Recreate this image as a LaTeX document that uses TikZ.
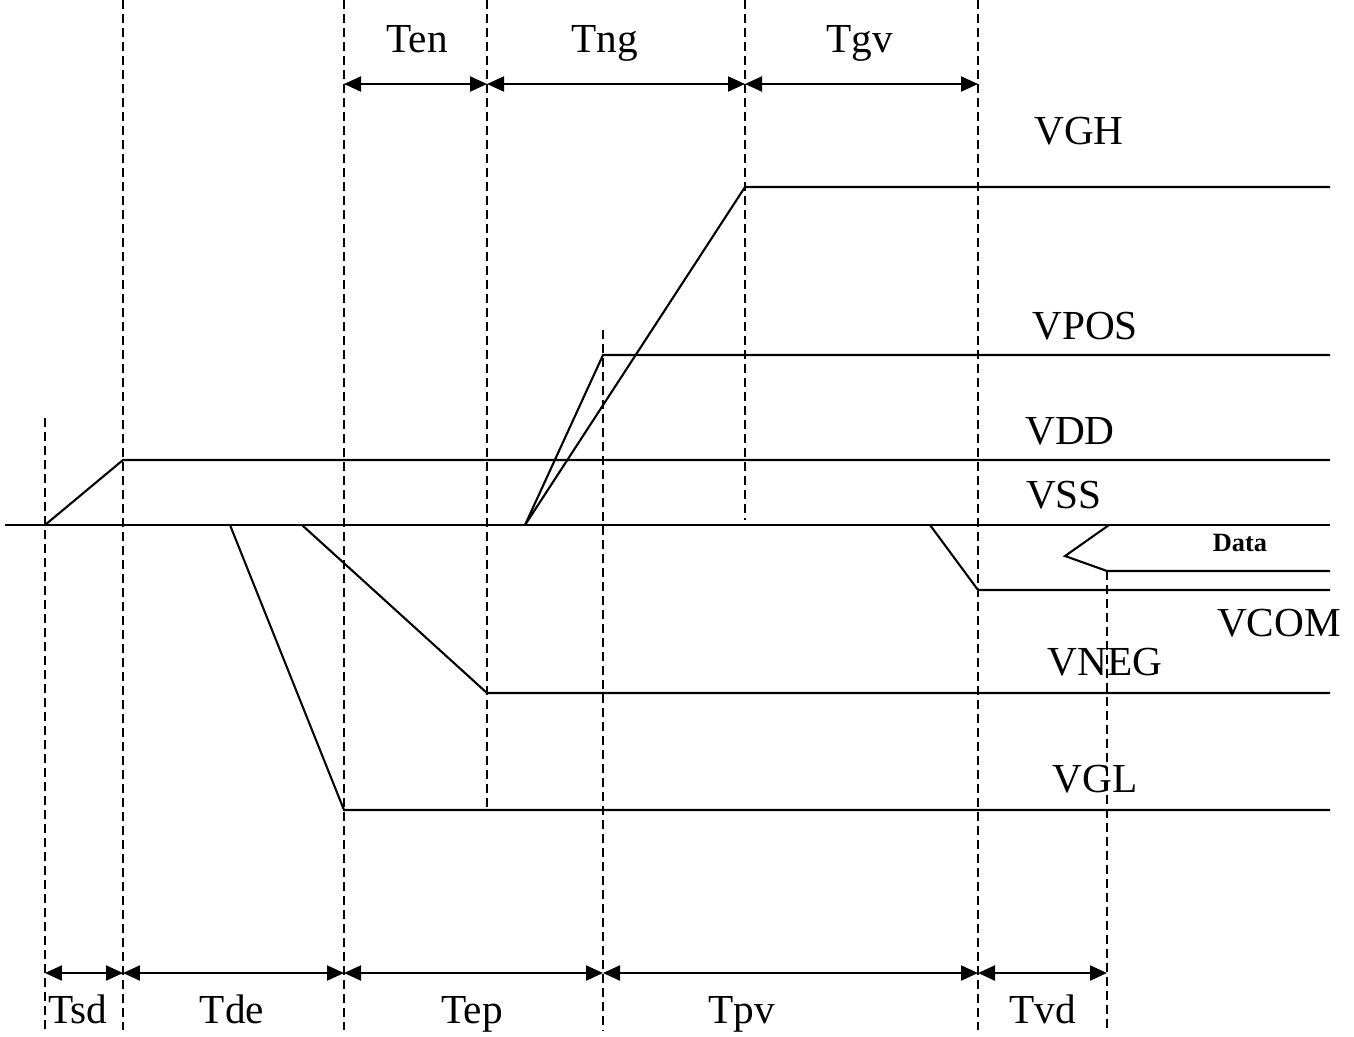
\documentclass[tikz,border=0pt]{standalone}
\usepackage{fontspec}
\setmainfont{Liberation Serif}
\usetikzlibrary{arrows.meta}
\begin{document}
\begin{tikzpicture}[x=0.02cm,y=-0.02cm,
  sig/.style={line width=1.2pt, line join=miter},
  guide/.style={line width=1.2pt, dash pattern=on 0.18cm off 0.1cm},
  dim/.style={line width=1.2pt, {Triangle[length=0.34cm,width=0.3cm]}-{Triangle[length=0.34cm,width=0.3cm]}},
  lbl/.style={font=\fontsize{23.5}{28}\selectfont, inner sep=0pt, anchor=base},
  dlbl/.style={font=\fontsize{15}{18}\selectfont\bfseries, inner sep=0pt, anchor=base}]
\useasboundingbox (0,0) rectangle (1354,1036);
% guide coordinates
\coordinate (g1t) at (45,418);  \coordinate (g1b) at (45,1030);
\coordinate (g2t) at (123,0);   \coordinate (g2b) at (123,1030);
\coordinate (g3t) at (344,0);   \coordinate (g3b) at (344,1030);
\coordinate (g4t) at (487,0);   \coordinate (g4b) at (487,810);
\coordinate (g5t) at (603,330); \coordinate (g5b) at (603,1030);
\coordinate (g6t) at (745,0);   \coordinate (g6b) at (745,520);
\coordinate (g7t) at (978,0);   \coordinate (g7b) at (978,1030);
\coordinate (g8t) at (1107,571);\coordinate (g8b) at (1107,1030);
\draw[guide] (g1t) -- (g1b);
\draw[guide] (g2t) -- (g2b);
\draw[guide] (g3t) -- (g3b);
\draw[guide] (g4t) -- (g4b);
\draw[guide] (g5t) -- (g5b);
\draw[guide] (g6t) -- (g6b);
\draw[guide] (g7t) -- (g7b);
\draw[guide] (g8t) -- (g8b);
% signals
\coordinate (vssL) at (5,525); \coordinate (vssR) at (1330,525);
\draw[sig] (vssL) -- (vssR);
\coordinate (vdd0) at (45,525); \coordinate (vdd1) at (123,460); \coordinate (vdd2) at (1330,460);
\draw[sig] (vdd0) -- (vdd1) -- (vdd2);
\coordinate (vp0) at (525,525); \coordinate (vp1) at (603,355); \coordinate (vp2) at (1330,355);
\draw[sig] (vp0) -- (vp1) -- (vp2);
\coordinate (vh1) at (745,187); \coordinate (vh2) at (1330,187);
\draw[sig] (vp0) -- (vh1) -- (vh2);
\coordinate (vn0) at (302,525); \coordinate (vn1) at (487,693); \coordinate (vn2) at (1330,693);
\draw[sig] (vn0) -- (vn1) -- (vn2);
\coordinate (vl0) at (230,525); \coordinate (vl1) at (344,810); \coordinate (vl2) at (1330,810);
\draw[sig] (vl0) -- (vl1) -- (vl2);
\coordinate (vc0) at (930,525); \coordinate (vc1) at (978,590); \coordinate (vc2) at (1330,590);
\draw[sig] (vc0) -- (vc1) -- (vc2);
\coordinate (d0) at (1109,525); \coordinate (d1) at (1065,556); \coordinate (d2) at (1107,571); \coordinate (d3) at (1330,571);
\draw[sig] (d0) -- (d1) -- (d2) -- (d3);
% signal labels
\node[lbl] (tVGH) at (1079,144) {VGH};
\node[lbl] (tVPOS) at (1085,339) {VPOS};
\node[lbl] (tVDD) at (1070,444) {VDD};
\node[lbl] (tVSS) at (1064,508) {VSS};
\node[dlbl] (tData) at (1240,551) {Data};
\node[lbl] (tVCOM) at (1279,636) {VCOM};
\node[lbl] (tVNEG) at (1105,675) {VNEG};
\node[lbl] (tVGL) at (1095,792) {VGL};
% top dimension arrows
\coordinate (a1) at (344,84); \coordinate (a2) at (487,84); \coordinate (a3) at (745,84); \coordinate (a4) at (978,84);
\draw[dim] (a1) -- (a2);
\draw[dim] (a2) -- (a3);
\draw[dim] (a3) -- (a4);
\node[lbl] (tTen) at (417,52) {Ten};
\node[lbl] (tTng) at (605,52) {Tng};
\node[lbl] (tTgv) at (860,52) {Tgv};
% bottom dimension arrows
\coordinate (b1) at (45,973); \coordinate (b2) at (123,973); \coordinate (b3) at (344,973);
\coordinate (b4) at (603,973); \coordinate (b5) at (978,973); \coordinate (b6) at (1107,973);
\draw[dim] (b1) -- (b2);
\draw[dim] (b2) -- (b3);
\draw[dim] (b3) -- (b4);
\draw[dim] (b4) -- (b5);
\draw[dim] (b5) -- (b6);
\node[lbl] (tTsd) at (78,1023) {Tsd};
\node[lbl] (tTde) at (232,1023) {Tde};
\node[lbl] (tTep) at (472,1023) {Tep};
\node[lbl] (tTpv) at (742,1023) {Tpv};
\node[lbl] (tTvd) at (1043,1023) {Tvd};
\end{tikzpicture}
\end{document}
